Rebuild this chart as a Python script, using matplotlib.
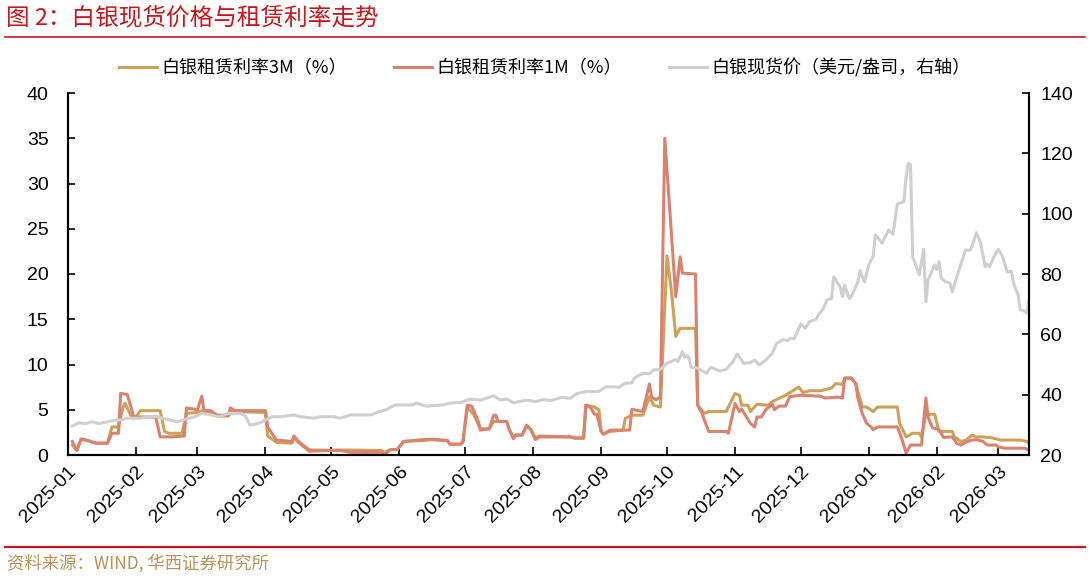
import matplotlib
matplotlib.use("Agg")
import matplotlib.pyplot as plt
from matplotlib.lines import Line2D
import pandas as pd

# ---------------- data ----------------
r_dates = ["2025-01-03","2025-01-05","2025-01-07","2025-01-10","2025-01-14","2025-01-19","2025-01-21","2025-01-24","2025-01-25","2025-01-28",
           "2025-01-31","2025-02-10","2025-02-12","2025-02-17","2025-02-23","2025-02-24","2025-03-01","2025-03-03","2025-03-04","2025-03-07",
           "2025-03-10","2025-03-15","2025-03-16","2025-03-18","2025-04-01","2025-04-02","2025-04-06","2025-04-13","2025-04-14","2025-04-16",
           "2025-04-21","2025-05-05","2025-05-10","2025-05-24","2025-05-25","2025-05-28","2025-05-31","2025-06-03","2025-06-12","2025-06-16",
           "2025-06-23","2025-06-24","2025-06-29","2025-06-30","2025-07-02","2025-07-04","2025-07-07","2025-07-08","2025-07-12","2025-07-14",
           "2025-07-15","2025-07-16","2025-07-20","2025-07-21","2025-07-23","2025-07-24","2025-07-27","2025-07-29","2025-07-31","2025-08-02",
           "2025-08-04","2025-08-18","2025-08-20","2025-08-24","2025-08-25","2025-08-27","2025-08-29","2025-08-30","2025-09-01","2025-09-02",
           "2025-09-05","2025-09-14","2025-09-15","2025-09-20","2025-09-23","2025-09-24","2025-09-26","2025-09-28","2025-09-30","2025-10-05",
           "2025-10-07","2025-10-08","2025-10-14","2025-10-15","2025-10-17","2025-10-18","2025-10-20","2025-10-28","2025-10-29","2025-11-01",
           "2025-11-03","2025-11-04","2025-11-06","2025-11-08","2025-11-10","2025-11-11","2025-11-13","2025-11-15","2025-11-18","2025-11-19",
           "2025-11-21","2025-11-24","2025-11-26","2025-12-01","2025-12-10","2025-12-12","2025-12-18","2025-12-20","2025-12-21","2025-12-24",
           "2025-12-26","2025-12-27","2025-12-29","2025-12-31","2026-01-02","2026-01-03","2026-01-05","2026-01-14","2026-01-16","2026-01-18",
           "2026-01-20","2026-01-25","2026-01-27","2026-01-28","2026-01-30","2026-02-02","2026-02-04","2026-02-08","2026-02-10","2026-02-12",
           "2026-02-14","2026-02-17","2026-02-19","2026-02-22","2026-02-24","2026-02-28","2026-03-01","2026-03-04","2026-03-13","2026-03-15"]
rate_1m = [1.5,0.5,1.8,1.6,1.3,1.3,2.4,2.4,6.8,6.7,
           4.2,4.2,2.0,2.0,2.1,5.2,5.0,6.5,4.9,4.9,
           4.4,4.4,5.2,4.9,4.9,3.1,1.65,1.5,2.1,1.5,
           0.55,0.5,0.3,0.3,0.0,0.6,0.6,1.5,1.7,1.75,
           1.6,1.2,1.2,1.5,5.5,5.4,3.7,2.75,2.9,4.4,
           4.4,3.7,3.7,2.9,1.8,2.2,2.2,3.3,2.8,1.7,
           2.0,2.0,1.85,1.85,5.5,5.3,4.5,4.5,2.6,2.3,
           2.75,2.75,5.05,4.8,7.85,6.4,6.1,6.4,35.0,17.5,
           21.9,20.1,20.0,5.5,4.6,3.9,2.6,2.6,2.4,5.7,
           4.8,5.1,4.3,3.5,3.1,4.2,4.2,5.0,5.6,5.0,
           5.4,5.4,6.45,6.6,6.5,6.3,6.4,6.3,8.5,8.5,
           7.9,6.3,4.6,3.5,3.1,2.8,3.1,3.1,1.8,0.2,
           1.1,1.1,6.3,4.2,3.0,2.8,1.95,2.0,1.3,1.1,
           1.4,1.65,1.7,1.5,1.1,1.1,0.9,0.75,0.75,0.55]

g_dates = ["2025-01-03","2025-01-05","2025-01-07","2025-01-10","2025-01-14","2025-01-19","2025-01-21","2025-01-24","2025-01-26","2025-01-27",
           "2025-01-30","2025-02-01","2025-02-03","2025-02-12","2025-02-14","2025-02-16","2025-02-22","2025-02-24","2025-03-01","2025-03-03",
           "2025-03-07","2025-03-10","2025-03-15","2025-03-17","2025-03-18","2025-04-01","2025-04-02","2025-04-06","2025-04-13","2025-04-14",
           "2025-04-16","2025-04-21","2025-05-05","2025-05-24","2025-05-25","2025-05-28","2025-05-31","2025-06-03","2025-06-12","2025-06-16",
           "2025-06-23","2025-06-24","2025-06-29","2025-06-30","2025-07-02","2025-07-05","2025-07-08","2025-07-12","2025-07-14","2025-07-20",
           "2025-07-21","2025-07-23","2025-07-24","2025-07-27","2025-07-29","2025-07-31","2025-08-02","2025-08-04","2025-08-18","2025-08-20",
           "2025-08-24","2025-08-25","2025-08-29","2025-08-31","2025-09-01","2025-09-02","2025-09-05","2025-09-11","2025-09-12","2025-09-15",
           "2025-09-20","2025-09-23","2025-09-25","2025-09-28","2025-10-01","2025-10-03","2025-10-05","2025-10-07","2025-10-14","2025-10-15",
           "2025-10-18","2025-10-20","2025-10-28","2025-11-01","2025-11-03","2025-11-04","2025-11-07","2025-11-08","2025-11-11","2025-11-16",
           "2025-11-18","2025-11-24","2025-11-30","2025-12-02","2025-12-05","2025-12-10","2025-12-15","2025-12-17","2025-12-20","2025-12-21",
           "2025-12-24","2025-12-26","2025-12-29","2025-12-31","2026-01-03","2026-01-05","2026-01-14","2026-01-15","2026-01-18","2026-01-21",
           "2026-01-24","2026-01-25","2026-01-27","2026-01-31","2026-02-02","2026-02-08","2026-02-09","2026-02-12","2026-02-14","2026-02-17",
           "2026-02-19","2026-02-22","2026-02-26","2026-03-02","2026-03-11","2026-03-14","2026-03-15"]
rate_3m = [1.1,0.5,1.7,1.6,1.3,1.3,3.1,3.1,5.2,5.7,
           4.2,4.2,4.9,4.9,2.6,2.4,2.4,4.6,4.7,4.9,
           4.7,4.3,4.3,4.9,4.8,4.7,2.1,1.4,1.3,1.9,
           1.4,0.4,0.55,0.5,0.25,0.6,0.6,1.5,1.6,1.7,
           1.55,1.2,1.2,1.4,5.3,4.4,2.9,2.9,3.7,3.7,
           2.9,1.9,2.2,2.2,3.2,2.8,1.9,2.1,2.0,1.9,
           1.9,5.5,5.3,5.0,2.6,2.3,2.6,2.75,4.05,4.4,
           4.4,6.45,5.5,5.3,22.0,18.2,13.1,14.0,14.0,5.5,
           4.6,4.8,4.8,6.8,6.6,5.5,5.5,4.8,5.6,5.5,
           5.9,6.6,7.5,6.9,7.1,7.1,7.4,7.9,7.8,8.5,
           8.5,7.9,5.3,5.3,4.8,5.3,5.3,3.5,2.0,2.4,
           2.4,2.0,4.5,4.5,2.6,2.6,2.0,1.5,1.6,2.2,
           2.0,2.0,1.9,1.65,1.65,1.5,1.3]

p_dates = ["2025-01-03","2025-01-06","2025-01-09","2025-01-12","2025-01-15","2025-01-19","2025-01-23","2025-01-25","2025-01-28","2025-02-03",
           "2025-02-07","2025-02-11","2025-02-13","2025-02-15","2025-02-20","2025-02-25","2025-02-28","2025-03-03","2025-03-07","2025-03-11",
           "2025-03-15","2025-03-21","2025-03-23","2025-03-25","2025-03-29","2025-04-01","2025-04-04","2025-04-08","2025-04-14","2025-04-17",
           "2025-04-23","2025-04-26","2025-05-02","2025-05-05","2025-05-10","2025-05-19","2025-05-23","2025-05-26","2025-05-30","2025-06-07",
           "2025-06-09","2025-06-13","2025-06-21","2025-06-24","2025-06-29","2025-07-03","2025-07-08","2025-07-14","2025-07-17","2025-07-20",
           "2025-07-23","2025-07-29","2025-08-02","2025-08-06","2025-08-09","2025-08-14","2025-08-18","2025-08-21","2025-08-25","2025-08-31",
           "2025-09-03","2025-09-07","2025-09-09","2025-09-12","2025-09-15","2025-09-16","2025-09-20","2025-09-23","2025-09-25","2025-09-28",
           "2025-10-01","2025-10-05","2025-10-06","2025-10-08","2025-10-09","2025-10-10","2025-10-11","2025-10-12","2025-10-15","2025-10-19",
           "2025-10-21","2025-10-25","2025-10-28","2025-10-31","2025-11-02","2025-11-05","2025-11-08","2025-11-10","2025-11-12","2025-11-15",
           "2025-11-18","2025-11-20","2025-11-23","2025-11-25","2025-11-26","2025-11-28","2025-11-29","2025-12-01","2025-12-03","2025-12-05",
           "2025-12-08","2025-12-09","2025-12-11","2025-12-13","2025-12-15","2025-12-16","2025-12-19","2025-12-20","2025-12-21","2025-12-23",
           "2025-12-24","2025-12-27","2025-12-28","2025-12-30","2026-01-01","2026-01-03","2026-01-04","2026-01-05","2026-01-07","2026-01-10",
           "2026-01-12","2026-01-14","2026-01-17","2026-01-18","2026-01-19","2026-01-20","2026-01-21","2026-01-24","2026-01-26","2026-01-27",
           "2026-01-28","2026-01-31","2026-02-01","2026-02-02","2026-02-03","2026-02-05","2026-02-07","2026-02-08","2026-02-11","2026-02-14",
           "2026-02-16","2026-02-17","2026-02-19","2026-02-21","2026-02-23","2026-02-24","2026-02-25","2026-02-27","2026-03-01","2026-03-03",
           "2026-03-05","2026-03-07","2026-03-08","2026-03-10","2026-03-11","2026-03-13","2026-03-14","2026-03-15"]
price = [29.6,30.7,30.4,31.0,30.4,31.0,31.6,31.6,32.2,32.2,
         32.7,32.7,32.2,31.9,31.0,32.2,32.7,33.8,33.3,32.7,
         33.8,33.8,32.7,29.9,30.5,31.6,32.7,32.7,33.3,32.7,
         32.2,32.7,32.7,32.2,33.3,33.3,34.4,35.0,36.6,36.6,
         37.2,36.2,36.6,37.2,37.4,38.5,38.2,39.6,38.2,38.6,
         37.3,38.2,37.7,38.4,38.0,39.1,38.8,40.4,41.0,41.1,
         42.6,42.6,42.4,43.8,43.9,45.4,47.1,46.9,48.2,48.4,
         50.4,51.7,51.0,54.2,52.5,52.9,52.3,49.1,48.8,47.1,
         49.1,47.8,48.4,50.9,53.5,50.4,50.6,51.5,49.8,51.5,
         53.7,57.0,58.3,57.9,58.6,58.6,60.0,63.5,62.0,64.2,
         65.0,66.4,68.3,71.4,71.9,79.1,75.6,72.5,76.3,71.9,
         72.5,77.4,81.1,77.4,83.0,86.0,92.9,92.2,90.2,94.6,
         93.2,103.2,104.0,112.3,116.7,116.2,85.7,79.7,88.2,70.8,
         78.0,83.0,81.5,84.1,78.6,77.4,77.0,74.1,81.1,87.9,
         87.9,89.0,93.7,90.2,82.4,83.3,82.4,85.7,88.2,85.7,
         80.8,80.8,76.9,73.0,68.1,67.7,67.0,71.4]

tick_labels = ["2025-01","2025-02","2025-03","2025-04","2025-05","2025-06","2025-07","2025-08",
               "2025-09","2025-10","2025-11","2025-12","2026-01","2026-02","2026-03"]

name_3m = "白银租赁利率3M（%）"
name_1m = "白银租赁利率1M（%）"
name_px = "白银现货价（美元/盎司，右轴）"
title_text = "图 2：白银现货价格与租赁利率走势"
source_text = "资料来源：WIND, 华西证券研究所"

# ---------------- style ----------------
C_GOLD = "#CDA158"
C_RED = "#D9826F"
C_GREY = "#CFCFCF"
C_TITLE = "#C8161D"
C_SRC = "#B8925A"
CJK = ["Noto Sans CJK SC", "DejaVu Sans"]
NUM = ["Liberation Sans", "DejaVu Sans"]

W, H = 1089, 577
fig = plt.figure(figsize=(W / 100, H / 100), dpi=100)
ax = fig.add_axes([68 / W, 1 - 455 / H, (1029 - 68) / W, (455 - 93) / H])
ax2 = ax.twinx()

rd = pd.to_datetime(r_dates)
gd = pd.to_datetime(g_dates)
pdts = pd.to_datetime(p_dates)

l3, = ax.plot(gd, rate_3m, color=C_GOLD, lw=2.2, solid_joinstyle="round")
l1, = ax.plot(rd, rate_1m, color=C_RED, lw=2.2, solid_joinstyle="round")
lp, = ax2.plot(pdts, price, color=C_GREY, lw=2.2, solid_joinstyle="round")

ax.set_ylim(0, 40)
ax.set_yticks(range(0, 41, 5))
ax2.set_ylim(20, 140)
ax2.set_yticks(range(20, 141, 20))
ax.set_xlim(pd.Timestamp("2025-01-01"), pd.Timestamp("2026-03-15"))

ticks = pd.to_datetime([t + "-01" for t in tick_labels])
ax.set_xticks(ticks)
ax.set_xticklabels(tick_labels, rotation=45, ha="right", va="top",
                   rotation_mode="anchor", fontfamily=NUM, fontsize=14)

for a in (ax, ax2):
    a.spines["top"].set_visible(False)
    for s in ("left", "right", "bottom"):
        a.spines[s].set_linewidth(1.5)
        a.spines[s].set_color("black")
ax.tick_params(axis="y", direction="in", length=5, width=1.2, pad=14, labelsize=14)
ax2.tick_params(axis="y", direction="in", length=5, width=1.2, pad=8, labelsize=14)
ax.tick_params(axis="x", direction="in", length=6, width=1.2, pad=6)
for lab in ax.get_yticklabels() + ax2.get_yticklabels():
    lab.set_fontfamily(NUM)

# legend
fig.legend([l3, l1, lp], [name_3m, name_1m, name_px], loc="center",
           bbox_to_anchor=(0.5, 1 - 68 / H), ncol=3, frameon=False,
           prop={"family": CJK, "size": 13}, handlelength=2.1,
           handletextpad=0.25, columnspacing=2.6, borderaxespad=0)

# title and source
fig.text(6 / W, 1 - 18 / H, title_text, color=C_TITLE, fontsize=17,
         fontfamily=CJK, va="center", ha="left")
fig.add_artist(Line2D([5 / W, 1085 / W], [1 - 37 / H, 1 - 37 / H],
                      color=C_TITLE, lw=1.2))
fig.add_artist(Line2D([5 / W, 1085 / W], [1 - 547 / H, 1 - 547 / H],
                      color=C_TITLE, lw=1.6))
fig.text(7 / W, 1 - 563 / H, source_text, color=C_SRC, fontsize=12.5,
         fontfamily=CJK, va="center", ha="left")

fig.savefig("out.png", dpi=100)
